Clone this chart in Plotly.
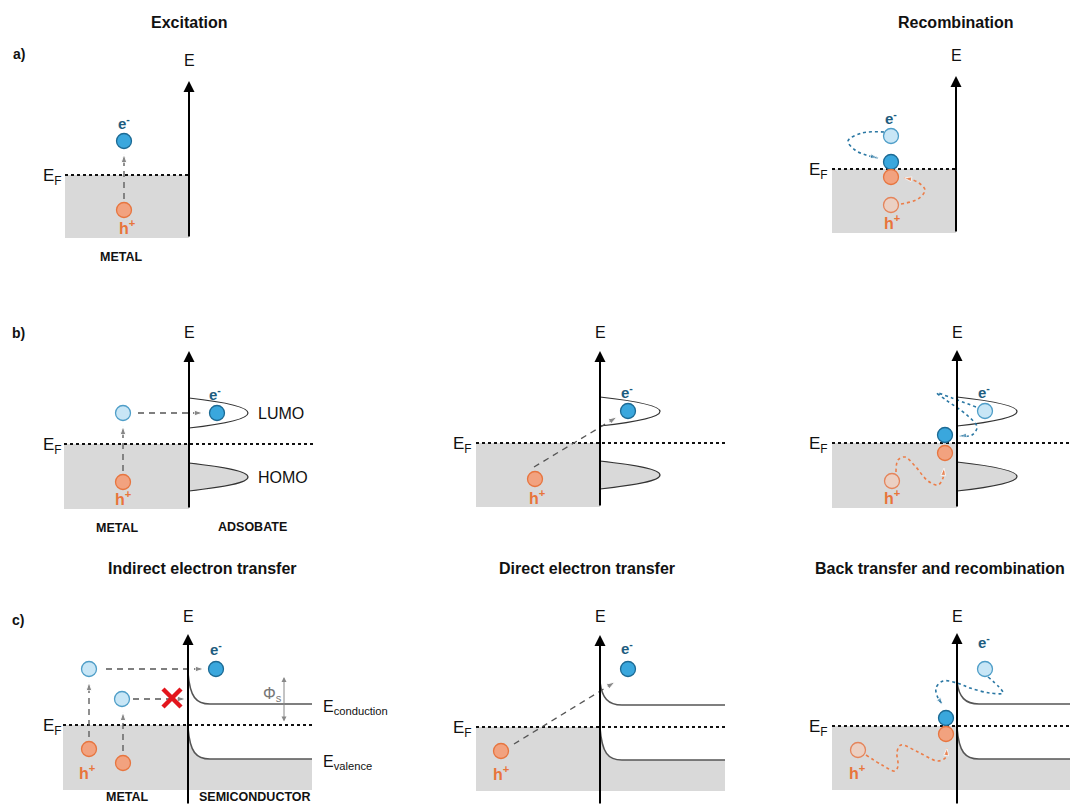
import plotly.graph_objects as go

W, H = 1070, 805
FONT = "Liberation Sans"

# ---------------- colours ----------------
C_E_FILL, C_E_LINE = "#3aa7dd", "#1c6a94"
C_EX_FILL, C_EX_LINE = "#c8e6f6", "#4f9ec8"
C_H_FILL, C_H_LINE = "#f2a27f", "#e7753f"
C_HF_FILL, C_HF_LINE = "#ebd0c3", "#e5845a"
C_E_TXT, C_H_TXT = "#1d5c80", "#e8743b"
C_GRAY = "#d9d9d9"
C_DASH = "#555555"

# ---------------- text ----------------
titles = ["Excitation", "Recombination", "Indirect electron transfer",
          "Direct electron transfer", "Back transfer and recombination"]
title_x = [189, 956, 202, 587, 813]
title_anchor = ["center", "center", "center", "center", "left"]
title_y = [22, 22, 568, 568, 568]

panel_labels = ["a)", "b)", "c)"]
panel_label_x = [19, 18, 18]
panel_label_y = [54, 333, 620]

# ---------------- energy axes / metal blocks (8 sub-diagrams) ----------------
axis_x = [189, 956, 189, 600, 957, 188, 600, 957]
axis_top = [81, 76, 351, 351, 350, 634, 635, 633]
axis_bot = [238, 233, 509, 507, 508, 805, 805, 805]
E_label_y = [60, 55, 332, 332, 332, 616, 616, 616]
metal_x0 = [65, 832, 64, 476, 832, 63, 476, 832]
fermi_y = [175, 169, 444, 443, 443, 725, 727, 726]
metal_bot = [238, 233, 509, 507, 508, 790, 791, 790]
fermi_x1 = [189, 956, 315, 726, 1070, 313, 725, 1070]
EF_label_x = [52, 818, 52, 462, 818, 52, 462, 818]

# ---------------- adsorbate orbitals (row b) ----------------
orb_axis = [189, 600, 957]
lumo_top = [398, 397, 397]
lumo_bot = [428, 426, 426]
homo_top = [463, 461, 462]
homo_bot = [491, 489, 491]
orb_peak_x = [248, 660, 1017]

# ---------------- semiconductor bands (row c) ----------------
band_axis = [188, 600, 957]
cond_top = [673, 682, 682]
cond_flat = [704, 705, 704]
val_top = [728, 728, 728]
val_flat = [759, 760, 759]
band_end = [312, 725, 1070]
band_bot = [790, 791, 790]

# ---------------- carriers ----------------
elec_x = [124, 891, 217, 628, 945, 216, 628, 946]
elec_y = [141, 162, 413, 411, 435, 669, 669, 718]
exc_x = [891, 123, 985, 89, 122, 985]
exc_y = [136, 413, 411, 669, 699, 669]
hole_x = [124, 891, 123, 535, 945, 89, 123, 501, 946]
hole_y = [210, 177, 482, 479, 453, 749, 763, 751, 734]
hfade_x = [891, 892, 858]
hfade_y = [205, 481, 750]

eminus_x = [124, 891, 215, 627, 984, 216, 627, 984]
eminus_y = [122, 117, 393, 391, 391, 648, 647, 641]
hplus_x = [127, 892, 123, 537, 892, 87, 501, 857]
hplus_y = [227, 222, 498, 497, 497, 772, 773, 772]

# ---------------- straight dashed transitions (x0, y0, x1, y1) ----------------
dash_x0 = [124, 123, 138, 534, 89, 123, 106, 133, 514]
dash_y0 = [199, 471, 413, 467, 737, 751, 669, 699, 744]
dash_x1 = [124, 123, 203, 617, 89, 123, 204, 186, 615]
dash_y1 = [154, 426, 413, 417, 682, 712, 669, 699, 682]

# ---------------- dotted relaxation paths ----------------
blue_paths = [
    ([884, 862, 848, 855, 866, 878], [132, 133, 141, 150, 155, 158]),
    ([976, 952, 937, 946, 968, 977, 972, 959], [407, 398, 393, 400, 416, 427, 435, 436]),
    ([988, 999, 1003, 990, 970, 957, 943, 936, 938, 943],
     [677, 687, 693, 693, 688, 683, 681, 688, 698, 705]),
]
orange_paths = [
    ([901, 918, 925, 919, 910, 904], [204, 199, 190, 183, 179, 178]),
    ([896, 898, 905, 915, 928, 938, 943, 944], [472, 460, 457, 466, 481, 485, 478, 468]),
    ([866, 882, 895, 898, 897, 901, 918, 938, 946, 947],
     [755, 765, 771, 766, 752, 745, 752, 761, 757, 748]),
]

# ---------------- other labels ----------------
lbl_text = ["METAL", "METAL", "ADSOBATE", "METAL", "SEMICONDUCTOR"]
lbl_x = [121, 117, 252, 127, 255]
lbl_y = [257, 528, 527, 797, 797]

fig = go.Figure()
shapes = []
ann = []

# metal gray blocks
for i in range(len(axis_x)):
    shapes.append(dict(type="rect", xref="x", yref="y", x0=metal_x0[i], x1=axis_x[i],
                       y0=fermi_y[i], y1=metal_bot[i], fillcolor=C_GRAY, line=dict(width=0),
                       layer="below"))

# semiconductor valence fill + band curves
for i in range(3):
    a = band_axis[i]
    vp = (f"M {a},{val_top[i]} C {a+2},{val_flat[i]-6} {a+8},{val_flat[i]} {a+22},{val_flat[i]} "
          f"L {band_end[i]},{val_flat[i]} L {band_end[i]},{band_bot[i]} L {a},{band_bot[i]} Z")
    shapes.append(dict(type="path", xref="x", yref="y", path=vp, fillcolor=C_GRAY,
                       line=dict(width=0), layer="below"))
    for top, flat in ((cond_top[i], cond_flat[i]), (val_top[i], val_flat[i])):
        p = (f"M {a},{top} C {a+2},{flat-7} {a+8},{flat} {a+22},{flat} L {band_end[i]},{flat}")
        shapes.append(dict(type="path", xref="x", yref="y", path=p,
                           line=dict(color="#555555", width=1.6), layer="below"))

# adsorbate orbitals
for i in range(3):
    a, px = orb_axis[i], orb_peak_x[i]
    for top, bot, filled in ((lumo_top[i], lumo_bot[i], False), (homo_top[i], homo_bot[i], True)):
        yc = (top + bot) / 2
        p = (f"M {a},{top} C {a+(px-a)*0.6},{top+4} {px},{yc-6} {px},{yc} "
             f"C {px},{yc+6} {a+(px-a)*0.6},{bot-4} {a},{bot}")
        if filled:
            p += " Z"
        shapes.append(dict(type="path", xref="x", yref="y", path=p,
                           fillcolor=C_GRAY if filled else "rgba(0,0,0,0)",
                           line=dict(color="#333333", width=1.2), layer="below"))

# Fermi levels
for i in range(len(axis_x)):
    shapes.append(dict(type="line", xref="x", yref="y", x0=metal_x0[i], x1=fermi_x1[i],
                       y0=fermi_y[i], y1=fermi_y[i], line=dict(color="#111111", width=2, dash="dot"),
                       layer="below"))

# energy axes (arrows)
for i in range(len(axis_x)):
    ann.append(dict(x=axis_x[i], y=axis_top[i], ax=axis_x[i], ay=axis_bot[i], xref="x", yref="y",
                    axref="x", ayref="y", showarrow=True, arrowhead=2, arrowsize=1.1,
                    arrowwidth=2, arrowcolor="#000000", text=""))
    ann.append(dict(x=axis_x[i], y=E_label_y[i], text="E", showarrow=False,
                    font=dict(family=FONT, size=16, color="#111111")))
    ann.append(dict(x=EF_label_x[i], y=fermi_y[i] + 2, text="E<sub>F</sub>", showarrow=False,
                    font=dict(family=FONT, size=17, color="#111111")))

# straight dashed arrows
for i in range(len(dash_x0)):
    fig.add_trace(go.Scatter(x=[dash_x0[i], dash_x1[i]], y=[dash_y0[i], dash_y1[i]],
                             mode="lines+markers", line=dict(color=C_DASH, width=1.3, dash="6px,5px"),
                             marker=dict(symbol="arrow", size=[0, 9], angleref="previous",
                                         color=C_DASH), hoverinfo="skip"))

# dotted relaxation paths
for xs, ys in blue_paths:
    fig.add_trace(go.Scatter(x=xs, y=ys, mode="lines+markers",
                             line=dict(color="#2a77a3", width=1.6, dash="dot", shape="spline"),
                             marker=dict(symbol="arrow", size=[0] * (len(xs) - 1) + [8],
                                         angleref="previous", color="#2a77a3"), hoverinfo="skip"))
for xs, ys in orange_paths:
    fig.add_trace(go.Scatter(x=xs, y=ys, mode="lines+markers",
                             line=dict(color="#ec7d48", width=1.6, dash="dot", shape="spline"),
                             marker=dict(symbol="arrow", size=[0] * (len(xs) - 1) + [8],
                                         angleref="previous", color="#ec7d48"), hoverinfo="skip"))

# red cross (blocked transfer)
cross_x = [163, 181, None, 163, 181]
cross_y = [689, 707, None, 707, 689]
fig.add_trace(go.Scatter(x=cross_x, y=cross_y, mode="lines",
                         line=dict(color="#e3161d", width=4.5), hoverinfo="skip"))

# carriers
def circles(xs, ys, fill, edge):
    fig.add_trace(go.Scatter(x=xs, y=ys, mode="markers",
                             marker=dict(size=15, color=fill, line=dict(color=edge, width=1.3)),
                             hoverinfo="skip"))

circles(exc_x, exc_y, C_EX_FILL, C_EX_LINE)
circles(hfade_x, hfade_y, C_HF_FILL, C_HF_LINE)
circles(elec_x, elec_y, C_E_FILL, C_E_LINE)
circles(hole_x, hole_y, C_H_FILL, C_H_LINE)

for x, y in zip(eminus_x, eminus_y):
    ann.append(dict(x=x, y=y, text="<b>e<sup>-</sup></b>", showarrow=False,
                    font=dict(family=FONT, size=15, color=C_E_TXT)))
for x, y in zip(hplus_x, hplus_y):
    ann.append(dict(x=x, y=y, text="<b>h<sup>+</sup></b>", showarrow=False,
                    font=dict(family=FONT, size=16, color=C_H_TXT)))

# titles & panel labels
for t, x, y, xa in zip(titles, title_x, title_y, title_anchor):
    ann.append(dict(x=x, y=y, text=f"<b>{t}</b>", showarrow=False, xanchor=xa,
                    font=dict(family=FONT, size=16, color="#111111")))
for t, x, y in zip(panel_labels, panel_label_x, panel_label_y):
    ann.append(dict(x=x, y=y, text=f"<b>{t}</b>", showarrow=False,
                    font=dict(family=FONT, size=14, color="#111111")))
for t, x, y in zip(lbl_text, lbl_x, lbl_y):
    ann.append(dict(x=x, y=y, text=f"<b>{t}</b>", showarrow=False,
                    font=dict(family=FONT, size=12.5, color="#111111")))

# orbital / band labels
ann.append(dict(x=256, y=413, text="LUMO", xanchor="left", showarrow=False,
                font=dict(family=FONT, size=16, color="#111111")))
ann.append(dict(x=256, y=477, text="HOMO", xanchor="left", showarrow=False,
                font=dict(family=FONT, size=16, color="#111111")))
ann.append(dict(x=321, y=707, text="E<sub>conduction</sub>", xanchor="left", showarrow=False,
                font=dict(family=FONT, size=16, color="#111111")))
ann.append(dict(x=321, y=762, text="E<sub>valence</sub>", xanchor="left", showarrow=False,
                font=dict(family=FONT, size=16, color="#111111")))
ann.append(dict(x=272, y=694, text="Φ<sub>s</sub>", showarrow=False,
                font=dict(family=FONT, size=16, color="#777777")))
ann.append(dict(x=284, y=677, ax=284, ay=723, xref="x", yref="y", axref="x", ayref="y",
                showarrow=True, arrowhead=2, arrowside="end+start", arrowsize=1,
                arrowwidth=1, arrowcolor="#888888", text=""))

fig.update_layout(
    width=W, height=H, margin=dict(l=0, r=0, t=0, b=0),
    paper_bgcolor="white", plot_bgcolor="white", showlegend=False,
    xaxis=dict(range=[0, W], visible=False, fixedrange=True),
    yaxis=dict(range=[H, 0], visible=False, fixedrange=True),
    shapes=shapes, annotations=ann,
)

fig.write_html("out.html", config={"displayModeBar": False},
               post_script="document.body.style.margin='0';document.body.style.overflow='hidden';")
